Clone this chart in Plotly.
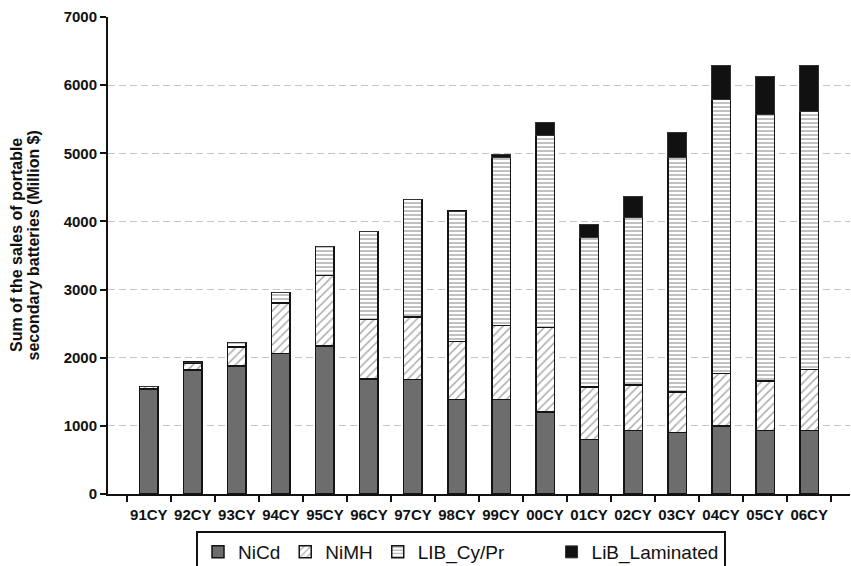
import plotly.graph_objects as go

years = ["91CY", "92CY", "93CY", "94CY", "95CY", "96CY", "97CY", "98CY",
         "99CY", "00CY", "01CY", "02CY", "03CY", "04CY", "05CY", "06CY"]

# Sales by battery type, million $
nicd = [1540, 1820, 1880, 2060, 2170, 1690, 1680, 1390,
        1390, 1200, 800, 930, 900, 1000, 930, 930]
nimh = [35, 100, 275, 745, 1040, 870, 920, 850,
        1080, 1246, 773, 670, 600, 770, 725, 900]
lib_cy_pr = [0, 15, 70, 155, 425, 1290, 1720, 1910,
             2465, 2813, 2192, 2460, 3435, 4025, 3915, 3790]
lib_laminated = [0, 0, 0, 0, 0, 0, 0, 0,
                 40, 190, 190, 310, 370, 500, 550, 670]

y_ticks = [0, 1000, 2000, 3000, 4000, 5000, 6000, 7000]
grid_ticks = [1000, 2000, 3000, 4000, 5000, 6000]
title_lines = ["Sum of the sales of portable", "secondary batteries (Million $)"]

FONT = "Liberation Sans, Arial, sans-serif"
NBSP = "\u00a0"
outline = dict(color="#141414", width=1.5)

fig = go.Figure()
fig.add_bar(x=years, y=nicd, name="NiCd",
            marker=dict(color="#6d6d6d", line=outline))
fig.add_bar(x=years, y=nimh, name="NiMH",
            marker=dict(color="white", line=outline,
                        pattern=dict(shape="/", fgcolor="#555555", bgcolor="white",
                                     size=6, solidity=0.25)))
fig.add_bar(x=years, y=lib_cy_pr, name="LIB_Cy/Pr" + NBSP * 8,
            marker=dict(color="white", line=outline,
                        pattern=dict(shape="-", fgcolor="#767676", bgcolor="white",
                                     size=4, solidity=0.45)))
fig.add_bar(x=years, y=lib_laminated, name="LiB_Laminated",
            marker=dict(color="#111111", line=dict(color="#333333", width=1)))

# invisible trace carrying the dashed grid on an overlaid axis
fig.add_scatter(x=years, y=[None] * len(years), yaxis="y2", showlegend=False,
                hoverinfo="skip")

# two-line rotated axis title, set close together
for xp, line in zip([-0.1240, -0.1005], title_lines):
    fig.add_annotation(text=line, xref="paper", yref="paper", x=xp, y=0.522,
                       xanchor="center", yanchor="middle", textangle=-90,
                       showarrow=False,
                       font=dict(size=16, family=FONT, color="#111111", weight="bold"))

fig.update_layout(
    barmode="stack",
    bargap=0.58,
    width=851, height=566,
    margin=dict(l=108, r=1, t=17, b=72, autoexpand=False),
    paper_bgcolor="white", plot_bgcolor="white",
    font=dict(family=FONT, color="#111111"),
    xaxis=dict(
        type="category", showline=True, linecolor="#111111", linewidth=2,
        ticks="outside", tickson="boundaries", ticklen=6, tickwidth=1.5,
        tickcolor="#111111", showgrid=False, tickangle=0, ticklabelstandoff=6,
        tickfont=dict(size=15, family=FONT, color="#111111", weight="bold"),
    ),
    yaxis=dict(
        range=[0, 7000], tickvals=y_ticks, showgrid=False, zeroline=False,
        showline=True, linecolor="#111111", linewidth=2,
        ticks="outside", ticklen=6, tickwidth=1.5, tickcolor="#111111",
        tickfont=dict(size=15, family=FONT, color="#111111", weight="bold"),
    ),
    yaxis2=dict(
        range=[0, 7000], overlaying="y", tickvals=grid_ticks, showticklabels=False,
        showgrid=True, gridcolor="#c4c4c4", gridwidth=1, griddash="7px,4px",
        zeroline=False, showline=False, ticks="",
    ),
    legend=dict(
        orientation="h", x=0.1186, xanchor="left", y=-0.0776, yanchor="top",
        bordercolor="#111111", borderwidth=2, bgcolor="white",
        font=dict(size=19, family=FONT, color="#111111"),
        traceorder="normal", itemwidth=30,
    ),
)

fig.write_html("out.html")
